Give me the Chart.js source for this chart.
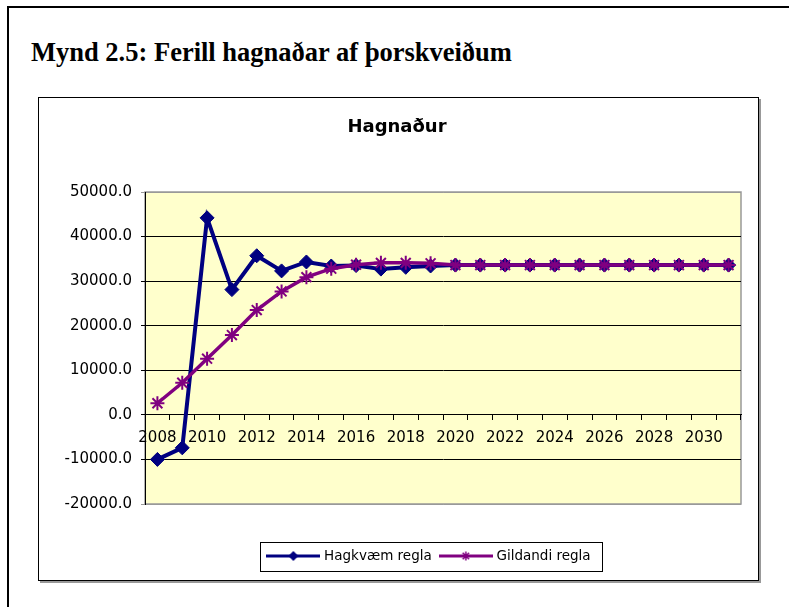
<!DOCTYPE html>
<html>
<head>
<meta charset="utf-8">
<title>Mynd 2.5: Ferill hagnaðar af þorskveiðum</title>
<script src="https://cdn.jsdelivr.net/npm/chart.js@4.4.1/dist/chart.umd.min.js"></script>
<style>
  html, body { margin: 0; padding: 0; background: #fff; }
  body { width: 789px; height: 607px; position: relative; overflow: hidden; }
  #frame { position: absolute; left: 7px; top: 6px; width: 820px; height: 640px;
           border-top: 2px solid #000; border-left: 2px solid #000; }
  #figTitle { position: absolute; left: 31px; top: 39px; white-space: nowrap; color: #000;
              font: bold 26.5px/26px "Liberation Serif", "Times New Roman", serif; }
  #box { position: absolute; left: 38px; top: 97px; width: 719px; height: 482px;
         border: 1px solid #000; box-shadow: 2px 2px 0 #999; background: #fff; }
  #box canvas { display: block; }
</style>
</head>
<body>
<div id="frame"></div>
<div id="figTitle">Mynd 2.5: Ferill hagnaðar af þorskveiðum</div>
<div id="box"><canvas id="chart" width="719" height="482"></canvas></div>

<script>
// ár (flokkar á x-ás)
const years = ['2008','2009','2010','2011','2012','2013','2014','2015','2016','2017','2018','2019',
               '2020','2021','2022','2023','2024','2025','2026','2027','2028','2029','2030','2031'];

// Hagkvæm regla
const hagkvaem = [-10000, -7400, 44200, 28100, 35700, 32300, 34300, 33400, 33500, 32700, 33100, 33400,
                  33600, 33600, 33600, 33600, 33600, 33600, 33600, 33600, 33600, 33600, 33600, 33600];

// Gildandi regla
const gildandi = [2600, 7200, 12600, 17900, 23500, 27700, 30900, 32800, 33700, 34100, 34100, 34000,
                  33600, 33600, 33600, 33600, 33600, 33600, 33600, 33600, 33600, 33600, 33600, 33600];

const seriesNames = ['Hagkvæm regla', 'Gildandi regla'];
const yMin = -20000, yMax = 50000, yStep = 10000;

const BLUE = '#000080';
const PURPLE = '#800080';
const TITLE_SHIFT = 7;
const LEGEND_SHIFT = 40;

// litlar myndir fyrir skýringar (lína + merki)
function legendIcon(color, style) {
    let c = document.createElement('canvas');
    c.width = 54; c.height = 14;
    let g = c.getContext('2d');
    g.strokeStyle = color; g.fillStyle = color;
    g.lineWidth = 3;
    g.beginPath(); g.moveTo(0, 7); g.lineTo(54, 7); g.stroke();
    if (style == 'diamond') {
        g.beginPath();
        g.moveTo(27, 2); g.lineTo(32, 7); g.lineTo(27, 12); g.lineTo(22, 7);
        g.closePath(); g.fill();
    } else {
        g.lineWidth = 1.5;
        g.beginPath();
        g.moveTo(27, 2.5); g.lineTo(27, 11.5);
        g.moveTo(22.5, 7); g.lineTo(31.5, 7);
        g.moveTo(23.8, 3.8); g.lineTo(30.2, 10.2);
        g.moveTo(30.2, 3.8); g.lineTo(23.8, 10.2);
        g.stroke();
    }
    return c;
}
const legendIcons = [legendIcon(BLUE, 'diamond'), legendIcon(PURPLE, 'star')];

const plotBg = {
    id: 'plotBg',
    beforeDraw(chart) {
        const a = chart.chartArea, ctx = chart.ctx;
        ctx.save();
        ctx.fillStyle = '#FFFFCC';
        ctx.fillRect(a.left, a.top, a.right - a.left, a.bottom - a.top);
        ctx.strokeStyle = '#999';
        ctx.lineWidth = 1.5;
        ctx.strokeRect(a.left, a.top, a.right - a.left, a.bottom - a.top);
        ctx.restore();
    }
};

const nudge = {
    id: 'nudge',
    afterLayout(chart) {
        chart.titleBlock.left += TITLE_SHIFT; chart.titleBlock.right += TITLE_SHIFT;
        chart.legend.left += LEGEND_SHIFT; chart.legend.right += LEGEND_SHIFT;
    }
};

const legendFrame = {
    id: 'legendFrame',
    afterDraw(chart) {
        const hb = chart.legend.legendHitBoxes;
        if (!hb || !hb.length) return;
        const first = hb[0], last = hb[hb.length - 1];
        const cy = first.top + first.height / 2;
        const ctx = chart.ctx;
        ctx.save();
        ctx.strokeStyle = '#000';
        ctx.lineWidth = 1;
        ctx.strokeRect(Math.round(first.left - 9) + 0.5, Math.round(cy - 14.5) + 0.5,
                       Math.round(last.left + last.width + 12 - (first.left - 9)), 29);
        ctx.restore();
    }
};

new Chart(document.getElementById('chart'), {
    type: 'line',
    data: {
        labels: years,
        datasets: [
            {
                label: seriesNames[0],
                data: hagkvaem,
                borderColor: BLUE,
                borderWidth: 4,
                backgroundColor: BLUE,
                pointStyle: 'rectRot',
                pointRadius: 7,
                pointHoverRadius: 7,
                pointBorderWidth: 1,
                pointBackgroundColor: BLUE,
                pointBorderColor: BLUE,
                tension: 0,
                order: 1
            },
            {
                label: seriesNames[1],
                data: gildandi,
                borderColor: PURPLE,
                borderWidth: 3.5,
                backgroundColor: PURPLE,
                pointStyle: 'star',
                pointRadius: 7,
                pointHoverRadius: 7,
                pointBorderWidth: 2,
                pointBorderColor: PURPLE,
                tension: 0,
                order: 0
            }
        ]
    },
    options: {
        responsive: false,
        animation: false,
        devicePixelRatio: 1,
        layout: { padding: { left: 0, right: 17, top: 0, bottom: 7.25 } },
        scales: {
            x: {
                type: 'category',
                position: { y: 0 },
                offset: true,
                grid: { offset: true, drawOnChartArea: false, drawTicks: true, tickLength: 5, color: '#000', lineWidth: 1 },
                border: { display: true, color: '#000', width: 1 },
                ticks: {
                    autoSkip: false,
                    maxRotation: 0,
                    padding: 9,
                    color: '#000',
                    font: { family: 'DejaVu Sans', size: 15 },
                    callback: function(val, idx) { return idx % 2 == 0 ? this.getLabelForValue(val) : ''; }
                }
            },
            y: {
                min: yMin,
                max: yMax,
                afterFit: s => { s.width = 106; },
                grid: {
                    color: ctx => (ctx.tick && (ctx.tick.value == yMax || ctx.tick.value == yMin)) ? '#999' : '#000',
                    lineWidth: 1,
                    tickLength: 4
                },
                border: { display: true, color: '#000', width: 1 },
                ticks: {
                    stepSize: yStep,
                    padding: 9,
                    color: '#000',
                    font: { family: 'DejaVu Sans', size: 15 },
                    callback: v => v.toFixed(1)
                }
            }
        },
        plugins: {
            title: {
                display: true,
                text: 'Hagnaður',
                color: '#000',
                font: { family: 'DejaVu Sans', size: 18, weight: 'bold' },
                padding: { top: 19, bottom: 53.4 }
            },
            legend: {
                position: 'bottom',
                title: { display: true, text: '', font: { size: 10, lineHeight: 1 }, padding: { top: 25.25, bottom: 0 } },
                labels: {
                    usePointStyle: true,
                    pointStyleWidth: 48,
                    padding: 10,
                    color: '#000',
                    font: { family: 'DejaVu Sans', size: 13.5 },
                    sort: (a, b) => a.datasetIndex - b.datasetIndex,
                    generateLabels: chart => {
                        const items = Chart.defaults.plugins.legend.labels.generateLabels(chart);
                        items.forEach(it => { it.pointStyle = legendIcons[it.datasetIndex]; });
                        return items;
                    }
                }
            },
            tooltip: { enabled: false }
        }
    },
    plugins: [plotBg, nudge, legendFrame]
});
</script>
</body>
</html>
